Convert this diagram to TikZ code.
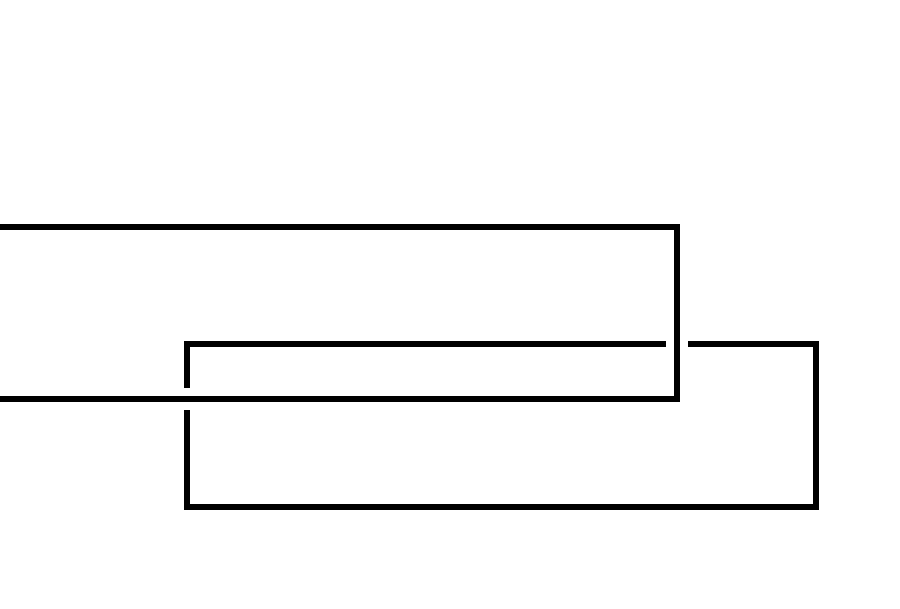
\documentclass[tikz,border=0pt]{standalone}
\begin{document}
\begin{tikzpicture}[x=1pt,y=-1pt,
  frame/.style={draw=black,line width=5.5pt,line join=miter},
  overframe/.style={frame,preaction={draw=white,line width=22pt}}]
\useasboundingbox[fill=white] (0,0) rectangle (900,609);
\begin{scope}
\clip (0,0) rectangle (900,609);
% lower rectangle
\coordinate (b1) at (187,344);
\coordinate (b2) at (816,507);
\draw[frame] (b1) rectangle (b2);
% upper rectangle (passes over the lower one)
\coordinate (a1) at (-30,227);
\coordinate (a2) at (677,399);
\draw[overframe] (a1) rectangle (a2);
\end{scope}
\end{tikzpicture}
\end{document}
